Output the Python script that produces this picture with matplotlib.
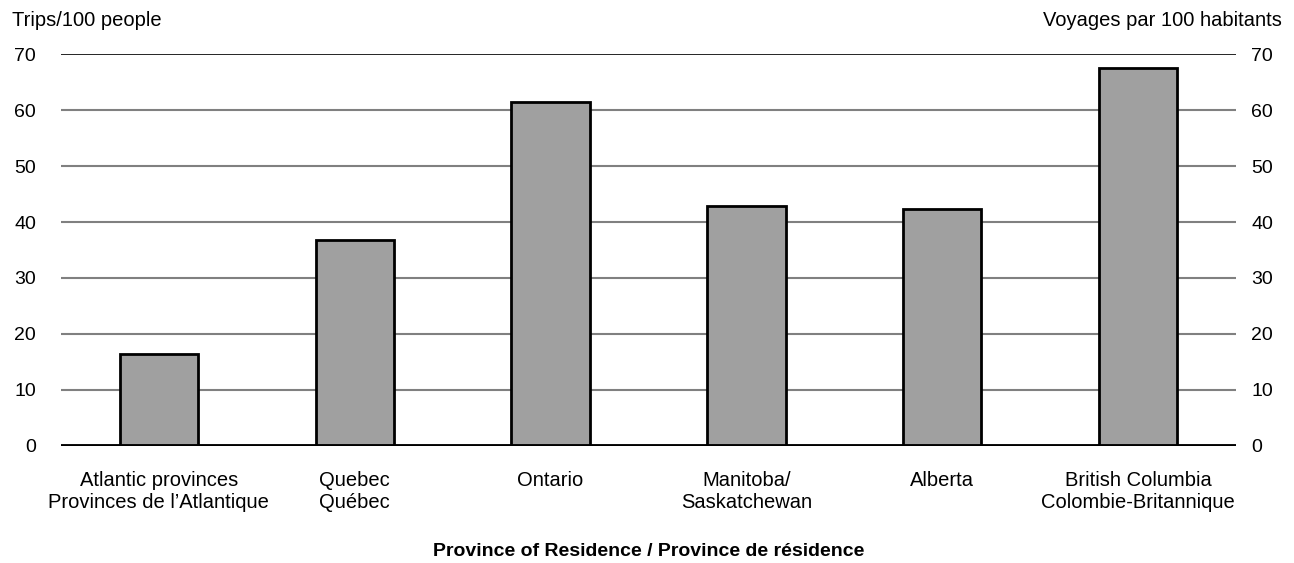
import matplotlib.pyplot as plt

plt.rcParams["font.family"] = ["Liberation Sans", "DejaVu Sans"]

categories = [
    "Atlantic provinces\nProvinces de l\u2019Atlantique",
    "Quebec\nQu\u00e9bec",
    "Ontario\n",
    "Manitoba/\nSaskatchewan",
    "Alberta\n",
    "British Columbia\nColombie-Britannique",
]
trips = [16.4, 36.7, 61.5, 42.8, 42.3, 67.5]
yticks = [0, 10, 20, 30, 40, 50, 60, 70]

fig = plt.figure(figsize=(12.94, 5.63), dpi=100)
ax = fig.add_axes([61 / 1294, 117 / 563, 1175 / 1294, 392 / 563])

x = range(len(categories))
ax.bar(x, trips, width=0.4, color="#a0a0a0", edgecolor="black", linewidth=2, zorder=3)

for t in yticks[1:-1]:
    ax.axhline(t, color="#808080", linewidth=1.5, zorder=1)
ax.axhline(70, color="black", linewidth=1.2, zorder=1)
ax.axhline(0, color="black", linewidth=3.5, zorder=4)

ax.set_xlim(-0.5, 5.5)
ax.set_ylim(0, 70)
ax.set_yticks(yticks)
ax.tick_params(axis="y", length=0, labelsize=14, pad=18)
ax.set_xticks(list(x))
ax.set_xticklabels(categories, fontsize=14.5, linespacing=1.22)
ax.tick_params(axis="x", length=0, pad=18)
for s in ax.spines.values():
    s.set_visible(False)

ax2 = ax.twinx()
ax2.set_ylim(0, 70)
ax2.set_yticks(yticks)
ax2.tick_params(axis="y", length=0, labelsize=14, pad=11)
for s in ax2.spines.values():
    s.set_visible(False)

ax.set_xlabel("Province of Residence / Province de r\u00e9sidence", fontsize=14,
              fontweight="bold", va="center")
ax.xaxis.set_label_coords(0.5, -0.27)

fig.text(12 / 1294, 1 - 20 / 563, "Trips/100 people", fontsize=14.5, va="center", ha="left")
fig.text(1282 / 1294, 1 - 20 / 563, "Voyages par 100 habitants", fontsize=14.5,
         va="center", ha="right")

fig.savefig("out.png", dpi=100)
plt.close(fig)
